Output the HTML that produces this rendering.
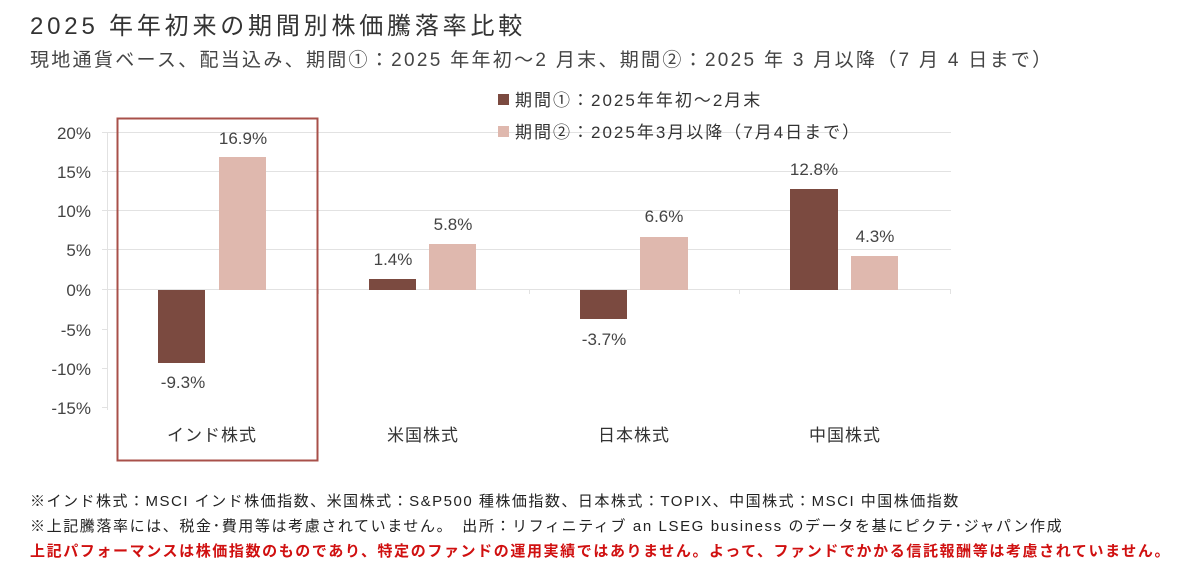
<!DOCTYPE html><html><head><meta charset="utf-8"><style>
body{margin:0;width:1202px;height:580px;background:#fff;overflow:hidden;font-family:"Liberation Sans","Noto Sans CJK JP",sans-serif;color:#333}
.t{position:absolute;white-space:nowrap}
</style></head><body>
<div class="t" style="left:30px;top:6px;font-size:24px;color:#333;letter-spacing:3.8px">2025 年年初来の期間別株価騰落率比較</div>
<div class="t" style="left:30px;top:45px;font-size:19px;color:#444;letter-spacing:2.3px">現地通貨ベース、配当込み、期間①：2025 年年初～2 月末、期間②：2025 年 3 月以降（7 月 4 日まで）</div>
<svg width="1202" height="580" style="position:absolute;left:0;top:0" font-family="Liberation Sans, Noto Sans CJK JP, sans-serif">
<g stroke="#e2e2e2" stroke-width="1">
<line x1="107" x2="951" y1="132.5" y2="132.5"/><line x1="107" x2="951" y1="171.5" y2="171.5"/><line x1="107" x2="951" y1="210.5" y2="210.5"/><line x1="107" x2="951" y1="249.5" y2="249.5"/><line x1="107" x2="951" y1="289.5" y2="289.5"/>
<line x1="107.5" x2="107.5" y1="132" y2="410"/>
<line x1="102" x2="107" y1="132.5" y2="132.5"/><line x1="102" x2="107" y1="171.5" y2="171.5"/><line x1="102" x2="107" y1="210.5" y2="210.5"/><line x1="102" x2="107" y1="249.5" y2="249.5"/><line x1="102" x2="107" y1="289.5" y2="289.5"/><line x1="102" x2="107" y1="329.5" y2="329.5"/><line x1="102" x2="107" y1="368.5" y2="368.5"/><line x1="102" x2="107" y1="407.5" y2="407.5"/>
<line x1="318.5" x2="318.5" y1="289" y2="294"/><line x1="529.5" x2="529.5" y1="289" y2="294"/><line x1="739.5" x2="739.5" y1="289" y2="294"/><line x1="950.5" x2="950.5" y1="289" y2="294"/>
</g>
<g font-size="17" fill="#444" text-anchor="end">
<text x="91" y="139">20%</text><text x="91" y="178">15%</text><text x="91" y="217">10%</text><text x="91" y="256">5%</text><text x="91" y="296">0%</text><text x="91" y="336">-5%</text><text x="91" y="375">-10%</text><text x="91" y="414">-15%</text>
</g>
<g fill="#7b4a40">
<rect x="158" y="290" width="47" height="73"/><rect x="369" y="279" width="47" height="11"/><rect x="580" y="290" width="47" height="29"/><rect x="790" y="189" width="48" height="101"/>
</g>
<g fill="#dfb8ae">
<rect x="219" y="157" width="47" height="133"/><rect x="429" y="244" width="47" height="46"/><rect x="640" y="237" width="48" height="53"/><rect x="851" y="256" width="47" height="34"/>
</g>
<g font-size="17" fill="#444" text-anchor="middle">
<text x="183" y="388">-9.3%</text><text x="243" y="144">16.9%</text>
<text x="393" y="265">1.4%</text><text x="453" y="230">5.8%</text>
<text x="604" y="345">-3.7%</text><text x="664" y="222">6.6%</text>
<text x="814" y="175">12.8%</text><text x="875" y="242">4.3%</text>
</g>
<g font-size="17" fill="#333" text-anchor="middle" letter-spacing="1">
<text x="212" y="441">インド株式</text><text x="423" y="441">米国株式</text><text x="634" y="441">日本株式</text><text x="845" y="441">中国株式</text>
</g>
<rect x="117.5" y="118.5" width="200" height="342" fill="none" stroke="#a8504a" stroke-width="2"/>
<rect x="498" y="94" width="11" height="11" fill="#7b4a40"/>
<rect x="498" y="126" width="11" height="11" fill="#dfb8ae"/>
<g font-size="17" fill="#333" letter-spacing="2"><text x="515" y="106">期間①：2025年年初～2月末</text><text x="515" y="138">期間②：2025年3月以降（7月4日まで）</text></g>
</svg>
<div class="t" style="left:30px;top:490px;font-size:15px;color:#222;letter-spacing:1.5px">※インド株式：MSCI インド株価指数、米国株式：S&amp;P500 種株価指数、日本株式：TOPIX、中国株式：MSCI 中国株価指数</div>
<div class="t" style="left:30px;top:515px;font-size:15px;color:#222;letter-spacing:1.6px">※上記騰落率には、税金･費用等は考慮されていません。　出所：リフィニティブ an LSEG business のデータを基にピクテ･ジャパン作成</div>
<div class="t" style="left:30px;top:540px;font-size:15px;color:#d01010;font-weight:bold;letter-spacing:1.6px">上記パフォーマンスは株価指数のものであり、特定のファンドの運用実績ではありません。よって、ファンドでかかる信託報酬等は考慮されていません。</div>
</body></html>
